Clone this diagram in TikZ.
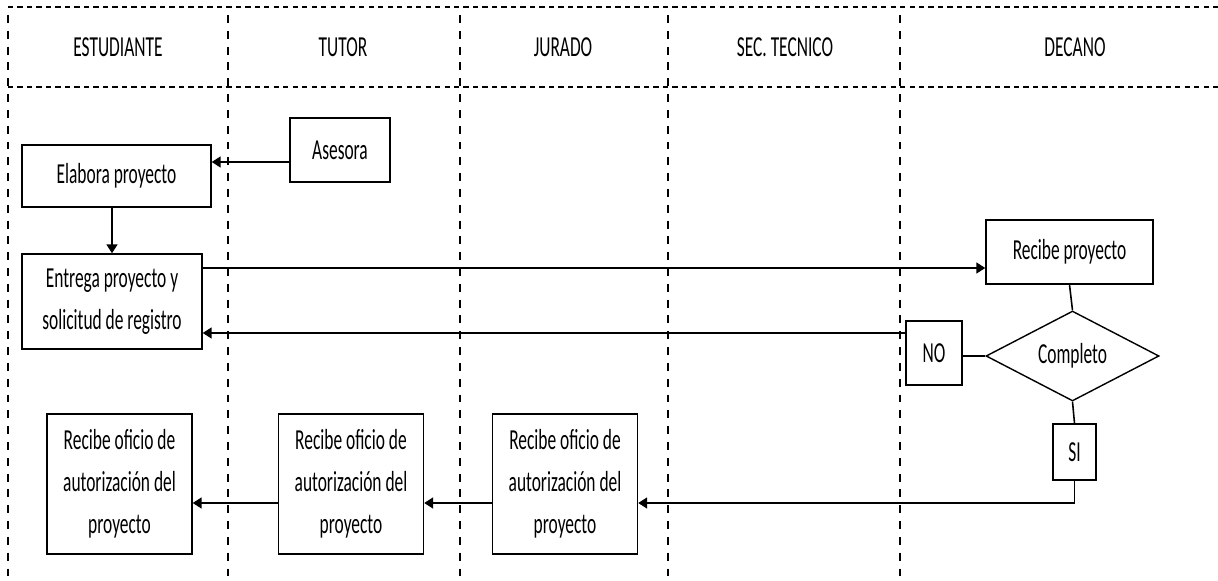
\documentclass[tikz,border=0pt]{standalone}
\usepackage{fontspec}
\setmainfont{Carlito}[FakeStretch=0.6]
\usepackage{tikz}
\usetikzlibrary{arrows.meta,positioning,shapes.geometric}
\tikzset{
  lane/.style={line width=0.6pt, dash pattern=on 3pt off 2.4pt},
  vlane/.style={line width=0.6pt, dash pattern=on 4.5pt off 4.5pt},
  box/.style={draw, line width=0.8pt, align=center, inner sep=0pt},
  arr/.style={line width=0.9pt, -{Triangle[length=1.8mm,width=2.2mm]}},
  link/.style={line width=0.9pt}
}

\begin{document}
\begin{tikzpicture}[font=\fontsize{16.5}{24}\selectfont]
    \useasboundingbox (0, 0) rectangle (24.36, 11.6);

    \draw[lane] (0.16, 11.46) -- (24.36, 11.46);
    \draw[lane] (0.16, 9.86) -- (24.36, 9.86);
    \draw[vlane] (0.16, 11.3) -- (0.16, 0);
    \draw[vlane] (4.56, 11.3) -- (4.56, 0);
    \draw[vlane] (9.2, 11.3) -- (9.2, 0);
    \draw[vlane] (13.36, 11.3) -- (13.36, 0);
    \draw[vlane] (18.0, 11.3) -- (18.0, 0);

    \node (hest) at (2.36, 10.66) {ESTUDIANTE};
    \node (htut) at (6.86, 10.66) {TUTOR};
    \node (hjur) at (11.26, 10.66) {JURADO};
    \node (hsec) at (15.7, 10.66) {SEC. TECNICO};
    \node (hdec) at (21.5, 10.66) {DECANO};

    \node[box, minimum width=2cm, minimum height=1.28cm] (asesora) at (6.8, 8.6) {Asesora};
    \node[box, minimum width=3.78cm, minimum height=1.24cm] (elabora) at (2.33, 8.08) {Elabora proyecto};
    \node[box, minimum width=3.6cm, minimum height=1.9cm] (entrega) at (2.24, 5.57) {Entrega proyecto y\\solicitud de registro};
    \node[box, minimum width=3.34cm, minimum height=1.28cm] (recibe) at (21.39, 6.56) {Recibe proyecto};
    \node[box, diamond, aspect=1.9, minimum width=3.46cm, minimum height=1.8cm] (completo) at (21.45, 4.48) {Completo};
    \node[box, minimum width=1.12cm, minimum height=1.28cm] (no) at (18.68, 4.54) {NO};
    \node[box, minimum width=0.86cm, minimum height=1.12cm] (si) at (21.49, 2.56) {SI};
    \node[box, minimum width=2.9cm, minimum height=2.8cm] (ofest) at (2.39, 1.92) {Recibe oficio de\\autorización del\\proyecto};
    \node[box, minimum width=2.9cm, minimum height=2.8cm] (oftut) at (7.02, 1.92) {Recibe oficio de\\autorización del\\proyecto};
    \node[box, minimum width=2.9cm, minimum height=2.8cm] (ofjur) at (11.3, 1.92) {Recibe oficio de\\autorización del\\proyecto};

    \draw[arr] ([yshift=-2.4mm]asesora.west) -- ([yshift=-2.4mm]asesora.west -| elabora.east);
    \draw[arr] (entrega.north |- elabora.south) -- (entrega.north);
    \draw[arr] ([yshift=-3.2mm]recibe.west -| entrega.east) -- ([yshift=-3.2mm]recibe.west);
    \draw[link] (recibe.south) -- (completo.north);
    \draw[link] (completo.west) -- (completo.west -| no.east);
    \draw[arr] ([yshift=4mm]no.west) -- ([yshift=4mm]no.west -| entrega.east);
    \draw[link] (completo.south) -- (si.north);
    \draw[arr] (si.south) |- ([yshift=-3.8mm]ofjur.east);
    \draw[arr] ([yshift=-3.8mm]ofjur.west) -- ([yshift=-3.8mm]oftut.east);
    \draw[arr] ([yshift=-3.8mm]oftut.west) -- ([yshift=-3.8mm]ofest.east);
\end{tikzpicture}
\end{document}
